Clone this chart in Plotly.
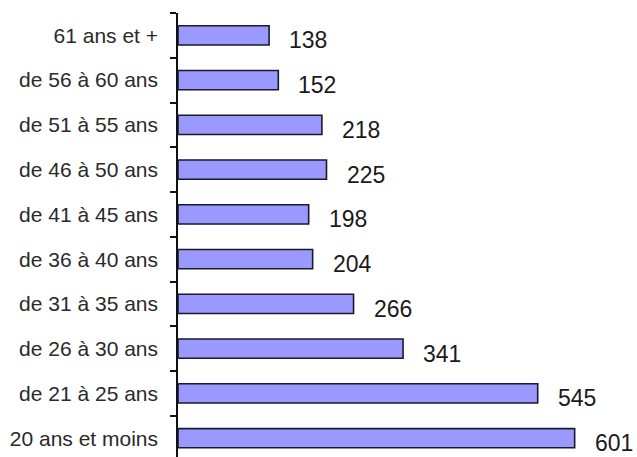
import plotly.graph_objects as go

categories = ["20 ans et moins", "de 21 à 25 ans", "de 26 à 30 ans", "de 31 à 35 ans",
              "de 36 à 40 ans", "de 41 à 45 ans", "de 46 à 50 ans", "de 51 à 55 ans",
              "de 56 à 60 ans", "61 ans et +"]
values = [601, 545, 341, 266, 204, 198, 225, 218, 152, 138]

fig = go.Figure()
fig.add_trace(go.Bar(
    x=values, y=categories, orientation="h",
    width=0.43,
    marker=dict(color="#9999ff", line=dict(color="#1a1a2a", width=1.6)),
    hoverinfo="skip", cliponaxis=False,
))

for v, c in zip(values, categories):
    fig.add_annotation(x=v, y=c, text=str(v), showarrow=False,
                       xanchor="left", yanchor="middle", xshift=18, yshift=-5,
                       font=dict(family="Liberation Sans, Arial", size=23, color="#1a1a1a"))

fig.update_layout(
    width=637, height=457,
    margin=dict(l=178, r=30, t=13, b=0, autoexpand=False),
    paper_bgcolor="white", plot_bgcolor="white",
    showlegend=False,
    xaxis=dict(range=[0, 650], visible=False, fixedrange=True, automargin=False),
    yaxis=dict(
        type="category", automargin=False,
        categoryorder="array", categoryarray=categories,
        range=[-0.42, 9.5],
        showline=True, linecolor="#111111", linewidth=1.5,
        ticks="outside", ticklen=6, tickcolor="#111111", tickwidth=1.5,
        tickson="boundaries",
        showgrid=False, zeroline=False,
        ticklabelstandoff=14,
        tickfont=dict(family="Liberation Sans, Arial", size=21, color="#2a2a2a"),
    ),
)

fig.write_html("out.html", config={"displayModeBar": False},
               post_script="document.body.style.margin='0';document.body.style.overflow='hidden';")
